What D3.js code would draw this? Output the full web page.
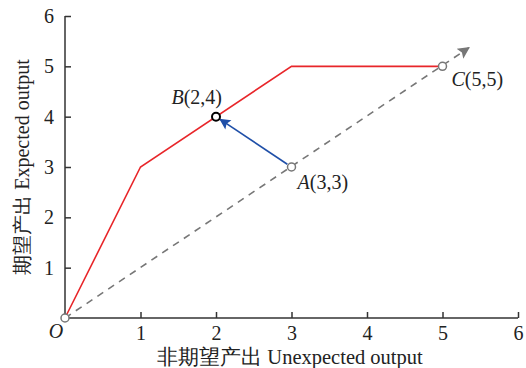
<!DOCTYPE html>
<html><head><meta charset="utf-8">
<script src="https://cdn.jsdelivr.net/npm/d3@7"></script>
<style>body{margin:0;background:#fff}svg{display:block}svg text{font-family:'Liberation Serif','Times New Roman','DejaVu Serif',serif;fill:#222}</style>
</head><body><svg id="c" width="526" height="368"></svg>
<script>
const xTicks = [1,2,3,4,5,6];
const yTicks = [1,2,3,4,5,6];
const frontierX = [0,1,3,5];
const frontierY = [0,3,5,5];
const rayEnd = [5.35,5.37];
const pointNames = ["A","B","C"];
const pointX = [3,2,5];
const pointY = [3,4,5];
const xLabel = "非期望产出 Unexpected output";
const yLabel = "期望产出 Expected output";

const svg = d3.select("#c");
const x = d3.scaleLinear().domain([0,6]).range([65,518]);
const y = d3.scaleLinear().domain([0,6]).range([318,16]);
const defs = svg.append("defs");
defs.append("marker").attr("id","ag").attr("viewBox","0 0 10 10").attr("refX",9).attr("refY",5)
  .attr("markerWidth",17).attr("markerHeight",12).attr("markerUnits","userSpaceOnUse").attr("orient","auto")
  .append("path").attr("d","M0,0L10,5L0,10L2,5z").attr("fill","#777");
defs.append("marker").attr("id","ab").attr("viewBox","0 0 10 10").attr("refX",9).attr("refY",5)
  .attr("markerWidth",15).attr("markerHeight",11).attr("markerUnits","userSpaceOnUse").attr("orient","auto")
  .append("path").attr("d","M0,0L10,5L0,10L2,5z").attr("fill","#1f4fa8");

const FS = 20;
// axes
const xa = svg.append("g").attr("transform","translate(0,318)")
  .call(d3.axisBottom(x).tickValues(xTicks).tickSize(-6).tickPadding(8).tickFormat(d3.format("d")));
const ya = svg.append("g").attr("transform","translate(65,0)")
  .call(d3.axisLeft(y).tickValues(yTicks).tickSize(-6).tickPadding(11).tickFormat(d3.format("d")));
[xa,ya].forEach(a=>{
  a.attr("font-size",FS).attr("font-family",null);
  a.select(".domain").attr("stroke","#333").attr("stroke-width",1.5);
  a.selectAll(".tick line").attr("stroke","#333").attr("stroke-width",1.5);
  a.selectAll(".tick text").attr("fill","#222");
});
xa.select(".domain").attr("d",`M${x(0)},0H${x(6)}`);
ya.select(".domain").attr("d",`M0,${y(0)}V${y(6)}`);

// dashed ray
svg.append("line").attr("x1",x(0)).attr("y1",y(0)).attr("x2",x(rayEnd[0])).attr("y2",y(rayEnd[1]))
  .attr("stroke","#777").attr("stroke-width",1.6).attr("stroke-dasharray","7,6").attr("marker-end","url(#ag)");
// frontier
svg.append("path").datum(frontierX.map((d,i)=>[d,frontierY[i]]))
  .attr("d",d3.line().x(d=>x(d[0])).y(d=>y(d[1])))
  .attr("fill","none").attr("stroke","#e8262a").attr("stroke-width",1.6);
// blue arrow A->B
const ax=x(pointX[0]), ay=y(pointY[0]), bx=x(pointX[1]), by=y(pointY[1]);
const L=Math.hypot(bx-ax,by-ay), s=(L-5)/L, s0=5/L;
svg.append("line").attr("x1",ax+(bx-ax)*s0).attr("y1",ay+(by-ay)*s0).attr("x2",ax+(bx-ax)*s).attr("y2",ay+(by-ay)*s)
  .attr("stroke","#1f4fa8").attr("stroke-width",1.6).attr("marker-end","url(#ab)");
// points
svg.append("circle").attr("cx",x(0)).attr("cy",y(0)).attr("r",4).attr("fill","#fff").attr("stroke","#777").attr("stroke-width",1.5);
pointNames.forEach((n,i)=>{
  svg.append("circle").attr("cx",x(pointX[i])).attr("cy",y(pointY[i])).attr("r",4).attr("fill","#fff")
    .attr("stroke",n==="B"?"#000":"#777").attr("stroke-width",n==="B"?2:1.5);
});
// point labels
const offs = {A:[6,22,"start"],B:[6,-13,"end"],C:[9,20,"start"]};
pointNames.forEach((n,i)=>{
  const o=offs[n];
  const t=svg.append("text").attr("x",x(pointX[i])+o[0]).attr("y",y(pointY[i])+o[1]).attr("font-size",FS).attr("text-anchor",o[2]);
  t.append("tspan").attr("font-style","italic").text(n);
  t.append("tspan").text(`(${pointX[i]},${pointY[i]})`);
});
svg.append("text").attr("x",x(0)-9).attr("y",y(0)+20).attr("font-size",FS).attr("font-style","italic").attr("text-anchor","middle").text("O");
// axis titles
svg.append("text").attr("x",290).attr("y",364).attr("text-anchor","middle").attr("font-size",20.5).text(xLabel);
svg.append("text").attr("transform","translate(29,167) rotate(-90)").attr("text-anchor","middle").attr("font-size",20).text(yLabel);
</script></body></html>
